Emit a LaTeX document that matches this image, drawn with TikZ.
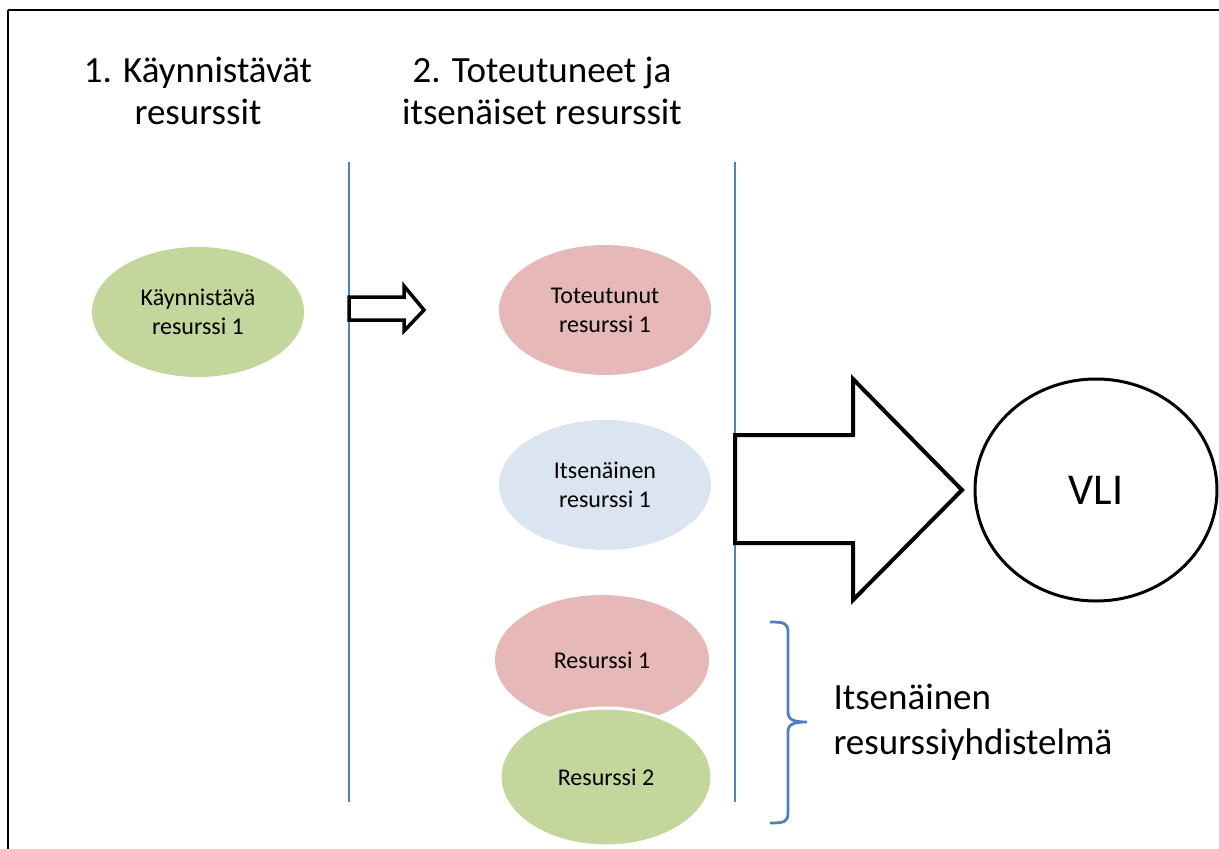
\documentclass[tikz,border=0pt]{standalone}
\usepackage{fontspec}
\setmainfont{Carlito}
\usetikzlibrary{shapes.geometric}
\definecolor{resgreen}{HTML}{C3D69B}
\definecolor{resred}{HTML}{E6B9B8}
\definecolor{resblue}{HTML}{DBE5F1}
\definecolor{lineblue}{HTML}{4F81BD}
\begin{document}
\begin{tikzpicture}[x=1pt,y=-1pt,
  res/.style={ellipse,minimum width=212pt,minimum height=130pt,inner sep=0pt,
    align=center,font=\fontsize{24}{29}\selectfont},
  title/.style={align=center,font=\fontsize{37}{42}\selectfont},
  divider/.style={lineblue,line width=2.8pt},
  blockarrow/.style={draw=black,fill=white,line width=4pt,line join=miter}]
\useasboundingbox (0,0) rectangle (1219,849);
% frame
\draw[line width=2.5pt] (8,10) -- (1225,10);
\draw[line width=1.5pt] (8,10) -- (8,855);
% column titles
\node[title] (t1) at (198,91) {1. Käynnistävät\\resurssit};
\node[title] (t2) at (542,91) {2. Toteutuneet ja\\itsenäiset resurssit};
% column dividers
\draw[divider] (349,162) -- (349,802);
\draw[divider] (735,162) -- (735,802);
% resources
\node[res,fill=resgreen] (k1) at (198,312) {Käynnistävä\\resurssi 1};
\node[res,fill=resred] (tr1) at (605,310) {Toteutunut\\resurssi 1};
\node[res,fill=resblue] (ir1) at (605,485) {Itsenäinen\\resurssi 1};
\node[res,fill=resred,minimum width=214pt] (r1) at (602,660) {Resurssi 1};
\node[res,fill=resgreen,draw=white,line width=3pt,minimum width=212pt,minimum height=138pt] (r2) at (606,777) {Resurssi 2};
% VLI
\node[ellipse,draw,line width=3pt,minimum width=242pt,minimum height=222pt,
  font=\fontsize{44}{50}\selectfont] (vli) at (1096,490) {VLI};
% small transition arrow
\draw[blockarrow,line width=3.5pt] (349,297) -- (404,297) -- (404,286) -- (424,310)
  -- (404,331) -- (404,320) -- (349,320) -- cycle;
% large arrow towards VLI
\draw[blockarrow] (735,435) -- (853,435) -- (853,379) -- (962,490)
  -- (853,600) -- (853,543) -- (735,543) -- cycle;
% brace grouping the combined resources
\draw[lineblue,line width=2.8pt] (770,622) .. controls (784,622) and (788,623) .. (788,632)
  -- (788,712) .. controls (788,720) and (794,722) .. (807,722)
  .. controls (794,722) and (788,724) .. (788,732)
  -- (788,813) .. controls (788,822) and (784,823) .. (770,823);
\node[anchor=west,align=left,font=\fontsize{37}{45}\selectfont] (comb) at (830,722)
  {Itsenäinen\\resurssiyhdistelmä};
\end{tikzpicture}
\end{document}
